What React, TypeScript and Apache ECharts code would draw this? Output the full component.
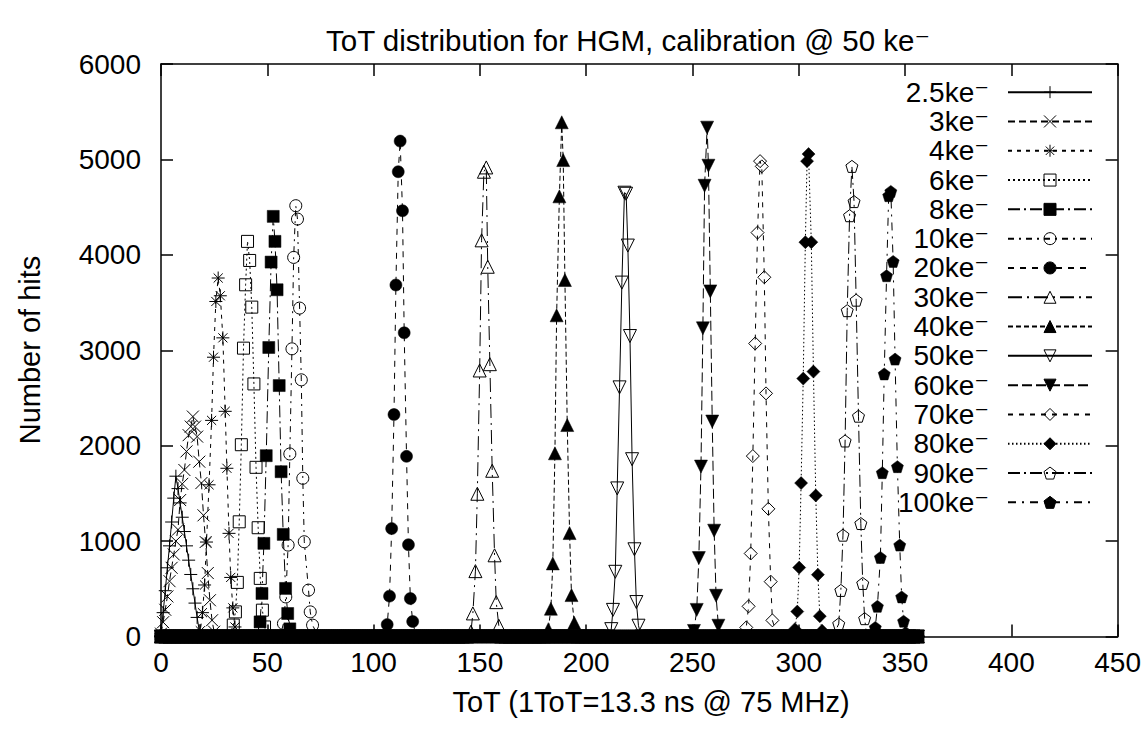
import React, { useEffect, useRef } from "react";
import * as echarts from "echarts";

const FONT = "'Liberation Sans', Arial, Helvetica, 'DejaVu Sans', sans-serif";

const titleText = "ToT distribution for HGM, calibration @ 50 ke⁻";
const xAxisTitle = "ToT (1ToT=13.3 ns @ 75 MHz)";
const yAxisTitle = "Number of hits";

const seriesNames = [
  "2.5ke⁻", "3ke⁻", "4ke⁻", "6ke⁻", "8ke⁻", "10ke⁻", "20ke⁻", "30ke⁻",
  "40ke⁻", "50ke⁻", "60ke⁻", "70ke⁻", "80ke⁻", "90ke⁻", "100ke⁻",
];

// ToT positions where every curve sits on (about) zero hits
const baselineToT = [
  0, 2, 4, 6, 8, 10, 12, 14, 16, 18, 20, 22, 24, 26, 28, 30, 32, 34, 36, 38,
  40, 42, 44, 46, 48, 50, 52, 54, 56, 58, 60, 62, 64, 66, 68, 70, 72, 74, 76, 78,
  80, 82, 84, 86, 88, 90, 92, 94, 96, 98, 100, 102, 104, 106, 108, 110, 112, 114, 116, 118,
  120, 122, 124, 126, 128, 130, 132, 134, 136, 138, 140, 142, 144, 146, 148, 150, 152, 154, 156, 158,
  160, 162, 164, 166, 168, 170, 172, 174, 176, 178, 180, 182, 184, 186, 188, 190, 192, 194, 196, 198,
  200, 202, 204, 206, 208, 210, 212, 214, 216, 218, 220, 222, 224, 226, 228, 230, 232, 234, 236, 238,
  240, 242, 244, 246, 248, 250, 252, 254, 256, 258, 260, 262, 264, 266, 268, 270, 272, 274, 276, 278,
  280, 282, 284, 286, 288, 290, 292, 294, 296, 298, 300, 302, 304, 306, 308, 310, 312, 314, 316, 318,
  320, 322, 324, 326, 328, 330, 332, 334, 336, 338, 340, 342, 344, 346, 348, 350, 352, 354, 356,
];

// peak regions: [ToT, hits]
const peak2_5 = [[0, 30], [1, 250], [2, 480], [3, 720], [4, 950], [5, 1200], [6, 1450], [7, 1680], [8, 1550], [9, 1400], [10, 1250], [11, 1100], [12, 950], [13, 800], [14, 650], [15, 500], [16, 350], [17, 200], [18, 60], [19, 10]];
const peak3 = [[0, 30], [1, 150], [2, 280], [3, 420], [4, 580], [5, 720], [6, 860], [7, 1000], [8, 1120], [9, 1430], [10, 1600], [11, 1745], [12, 1940], [13, 2110], [14, 2200], [15, 2305], [16, 2200], [17, 2095], [18, 1832], [19, 1608], [20, 1270], [21, 990], [22, 665], [23, 380], [24, 170], [25, 50]];
const peak4 = [[18.5, 60], [19.5, 250], [20.5, 540], [21.4, 990], [22.6, 1590], [23.8, 2265], [24.7, 2927], [25.8, 3511], [26.9, 3757], [27.9, 3571], [29.1, 3130], [30.2, 2360], [31.0, 1763], [32.0, 1081], [32.8, 619], [33.8, 300], [34.8, 100]];
const peak6 = [[34.0, 120], [35.0, 258], [35.9, 567], [36.8, 1202], [37.8, 2010], [38.8, 3022], [39.8, 3686], [40.7, 4141], [41.7, 3941], [42.7, 3452], [43.7, 2647], [44.7, 1773], [45.7, 1140], [46.7, 609], [47.7, 276], [48.7, 100]];
const peak8 = [[46.6, 153], [47.5, 451], [48.4, 976], [49.5, 1895], [50.7, 3029], [51.8, 3924], [52.8, 4403], [53.6, 4141], [54.6, 3634], [55.6, 2630], [56.5, 1727], [57.5, 1070], [58.6, 504], [59.6, 241], [60.6, 80]];
const peak10 = [[57.6, 136], [58.7, 415], [59.8, 958], [60.6, 1913], [61.6, 3015], [62.4, 3973], [63.4, 4515], [64.2, 4375], [65.2, 3442], [66.0, 2690], [66.7, 1658], [67.4, 993], [69.4, 486], [70.2, 258], [71.3, 119]];
const peak20 = [[106.4, 125], [107.5, 423], [108.5, 1131], [109.6, 2326], [110.5, 3684], [111.6, 4871], [112.5, 5192], [113.6, 4462], [114.4, 3183], [115.5, 1888], [116.4, 962], [117.3, 398], [118.4, 157]];
const peak30 = [[145.8, 50], [146.7, 242], [147.9, 685], [148.8, 1496], [149.9, 2788], [150.8, 4152], [151.9, 4871], [153.0, 4916], [153.7, 3875], [154.7, 2854], [155.8, 1737], [156.9, 851], [157.7, 360], [158.9, 113]];
const peak40 = [[182.2, 77], [183.4, 291], [184.3, 766], [185.3, 1920], [186.1, 3366], [187.4, 4613], [188.5, 5389], [189.2, 4993], [190.0, 3736], [191.1, 2216], [192.2, 1084], [193.1, 434], [194.4, 143]];
const peak50 = [[211.8, 77], [212.6, 279], [213.7, 678], [214.6, 1552], [215.7, 2611], [216.8, 3709], [218.0, 4651], [218.8, 4640], [219.6, 4097], [220.6, 3149], [221.6, 1858], [222.7, 914], [223.6, 361], [224.6, 113]];
const peak60 = [[250.7, 58], [252.0, 279], [253.0, 822], [254.0, 1781], [254.9, 3230], [255.7, 4724], [256.9, 5333], [257.5, 4934], [258.4, 3617], [259.3, 2253], [260.2, 1109], [261.1, 427], [262.2, 113]];
const peak70 = [[275.3, 95], [276.4, 316], [277.4, 870], [278.4, 1891], [279.5, 3071], [280.6, 4233], [281.8, 4982], [282.6, 4927], [283.8, 3765], [284.6, 2548], [285.7, 1338], [286.8, 575], [287.6, 169]];
const peak80 = [[298.2, 77], [299.3, 261], [300.2, 722], [301.1, 1608], [302.1, 2703], [303.1, 4133], [303.9, 4982], [304.6, 5056], [305.9, 4133], [306.9, 2776], [308.0, 1478], [309.0, 648], [309.9, 213], [311.0, 60]];
const peak90 = [[318.8, 132], [319.8, 483], [320.8, 1062], [321.8, 2049], [322.8, 3415], [323.9, 4410], [325.0, 4927], [326.0, 4558], [327.0, 3525], [328.1, 2309], [329.2, 1184], [330.1, 556], [331.0, 187]];
const peak100 = [[336.0, 95], [337.0, 316], [338.4, 829], [339.3, 1717], [340.2, 2752], [341.3, 3781], [342.3, 4620], [343.3, 4665], [344.4, 3931], [345.3, 2907], [346.4, 1780], [347.5, 958], [348.4, 415], [349.3, 160], [350.3, 40]];

const peaks = [peak2_5, peak3, peak4, peak6, peak8, peak10, peak20, peak30, peak40, peak50, peak60, peak70, peak80, peak90, peak100];

// marker shapes & line dashes (styles, kept apart from the data)
const PLUS = "path://M0,5H10M5,0V10";
const CROSS = "path://M0,0L10,10M0,10L10,0";
const STAR = "path://M0,5H10M5,0V10M1.5,1.5L8.5,8.5M1.5,8.5L8.5,1.5";
const PENTA = "path://M5,0L10,3.63L8.09,9.51L1.91,9.51L0,3.63Z";

type Sty = { symbol: string; fill: "none" | "solid" | "stroke"; rotate?: number; dash: number[] | "solid"; size?: number };
const styles: Sty[] = [
  { symbol: PLUS, fill: "stroke", dash: "solid", size: 13 },
  { symbol: CROSS, fill: "stroke", dash: [7, 4], size: 12 },
  { symbol: STAR, fill: "stroke", dash: [4, 5], size: 13 },
  { symbol: "rect", fill: "none", dash: [2, 3], size: 12 },
  { symbol: "rect", fill: "solid", dash: [12, 4, 2, 4], size: 12 },
  { symbol: "circle", fill: "none", dash: [6, 5, 2, 5], size: 12 },
  { symbol: "circle", fill: "solid", dash: [6, 6], size: 12 },
  { symbol: "triangle", fill: "none", dash: [14, 5, 2, 5], size: 13 },
  { symbol: "triangle", fill: "solid", dash: [5, 3], size: 13 },
  { symbol: "triangle", fill: "none", rotate: 180, dash: "solid", size: 13 },
  { symbol: "triangle", fill: "solid", rotate: 180, dash: [10, 4], size: 13 },
  { symbol: "diamond", fill: "none", dash: [5, 6], size: 13 },
  { symbol: "diamond", fill: "solid", dash: [1.5, 2.5], size: 13 },
  { symbol: PENTA, fill: "none", dash: [12, 4, 2, 4], size: 12 },
  { symbol: PENTA, fill: "solid", dash: [8, 6, 2, 6], size: 12 },
];

function withBaseline(peak: number[][]) {
  const lo = peak[0][0] - 0.8;
  const hi = peak[peak.length - 1][0] + 0.8;
  const base = baselineToT.filter((t) => t < lo || t > hi).map((t) => [t, 0]);
  return [...base, ...peak].sort((a, b) => a[0] - b[0]);
}

export default function App() {
  const ref = useRef<HTMLDivElement>(null);

  useEffect(() => {
    if (!ref.current) return;
    const chart = echarts.init(ref.current, undefined, { renderer: "svg" });

    const series = seriesNames.map((name, i) => {
      const s = styles[i];
      const itemStyle =
        s.fill === "solid"
          ? { color: "#000", borderColor: "#000", borderWidth: 0.5 }
          : { color: "none", borderColor: "#000", borderWidth: 1 };
      return {
        name,
        type: "line",
        data: withBaseline(peaks[i]),
        symbol: s.symbol,
        symbolSize: s.size ?? 12,
        symbolRotate: s.rotate ?? 0,
        showAllSymbol: true,
        clip: false,
        lineStyle: { color: "#000", width: 1, type: s.dash },
        itemStyle,
        emphasis: { disabled: true },
        z: 2 + i,
      };
    });

    const axisLine = { show: true, onZero: false, lineStyle: { color: "#000", width: 1.5 } };
    const axisTick = { show: true, inside: true, length: 12, lineStyle: { color: "#000", width: 1.5 } };
    const labelStyle = { color: "#000", fontSize: 28, fontFamily: FONT };

    chart.setOption({
      animation: false,
      backgroundColor: "#fff",
      textStyle: { fontFamily: FONT },
      grid: { left: 161, right: 15, top: 64, bottom: 94.5, containLabel: false },
      xAxis: [
        {
          type: "value", min: 0, max: 450, interval: 50, position: "bottom",
          axisLine, axisTick, splitLine: { show: false },
          axisLabel: { ...labelStyle, margin: 12, formatter: (v: number) => String(v) },
        },
        {
          type: "value", min: 0, max: 450, interval: 50, position: "top",
          axisLine, axisTick, splitLine: { show: false }, axisLabel: { show: false },
        },
      ],
      yAxis: [
        {
          type: "value", min: 0, max: 6000, interval: 1000, position: "left",
          axisLine, axisTick, splitLine: { show: false },
          axisLabel: { ...labelStyle, margin: 20, formatter: (v: number) => String(v) },
        },
        {
          type: "value", min: 0, max: 6000, interval: 1000, position: "right",
          axisLine, axisTick, splitLine: { show: false }, axisLabel: { show: false },
        },
      ],
      legend: {
        orient: "vertical",
        align: "right",
        right: 51,
        top: 77.5,
        padding: 0,
        itemGap: 0,
        itemWidth: 84,
        itemHeight: 15,
        selectedMode: false,
        data: seriesNames,
        itemStyle: { borderWidth: 1 },
        textStyle: { color: "#000", fontSize: 28, fontFamily: FONT, lineHeight: 29.3, padding: [0, 14, 0, 0] },
      },
      graphic: [
        {
          type: "text", x: 628, y: 40,
          style: { text: titleText, fill: "#000", font: `29.5px ${FONT}`, align: "center", verticalAlign: "middle" },
        },
        {
          type: "text", x: 651, y: 702,
          style: { text: xAxisTitle, fill: "#000", font: `29px ${FONT}`, align: "center", verticalAlign: "middle" },
        },
        {
          type: "text", x: 30, y: 350, rotation: Math.PI / 2,
          style: { text: yAxisTitle, fill: "#000", font: `29px ${FONT}`, align: "center", verticalAlign: "middle" },
        },
      ],
      series,
    });

    return () => chart.dispose();
  }, []);

  return <div ref={ref} style={{ width: 1144, height: 731, position: "absolute", left: 0, top: 0 }} />;
}
